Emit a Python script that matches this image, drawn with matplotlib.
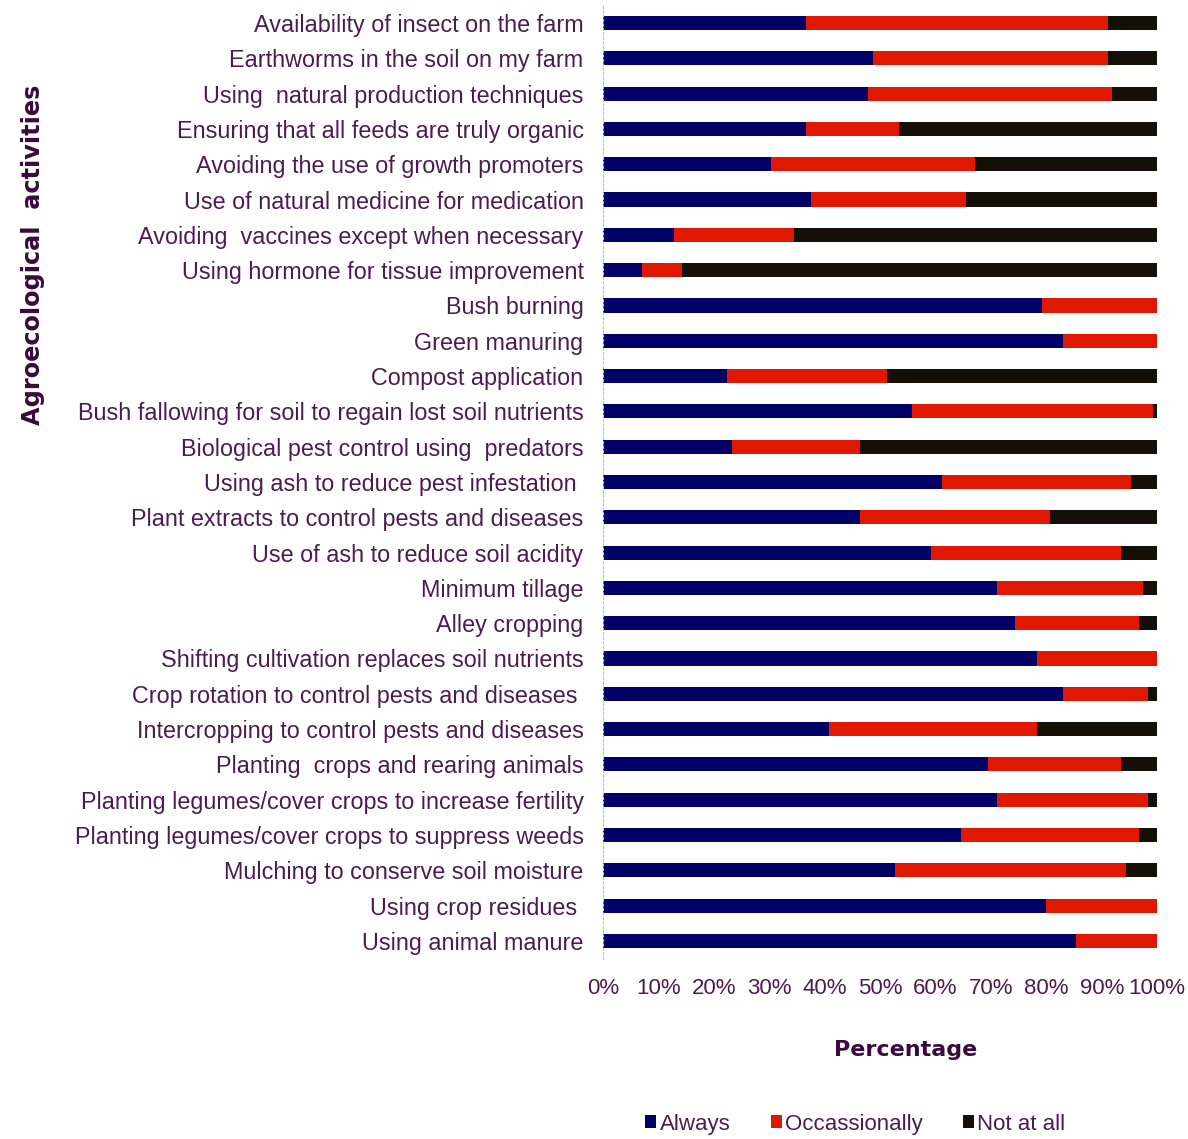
import matplotlib.pyplot as plt
import numpy as np

# activities, top to bottom as in the figure
activities = ['Availability of insect on the farm',
              'Earthworms in the soil on my farm',
              'Using  natural production techniques',
              'Ensuring that all feeds are truly organic',
              'Avoiding the use of growth promoters',
              'Use of natural medicine for medication',
              'Avoiding  vaccines except when necessary',
              'Using hormone for tissue improvement',
              'Bush burning',
              'Green manuring',
              'Compost application',
              'Bush fallowing for soil to regain lost soil nutrients',
              'Biological pest control using  predators',
              'Using ash to reduce pest infestation ',
              'Plant extracts to control pests and diseases',
              'Use of ash to reduce soil acidity',
              'Minimum tillage',
              'Alley cropping',
              'Shifting cultivation replaces soil nutrients',
              'Crop rotation to control pests and diseases ',
              'Intercropping to control pests and diseases',
              'Planting  crops and rearing animals',
              'Planting legumes/cover crops to increase fertility',
              'Planting legumes/cover crops to suppress weeds',
              'Mulching to conserve soil moisture',
              'Using crop residues ',
              'Using animal manure']

always = [36.6, 48.7, 47.8, 36.6, 30.3, 37.5, 12.8, 7.0, 79.2, 83.0, 22.4, 55.8, 23.3, 61.2,
          46.4, 59.2, 71.1, 74.4, 78.3, 83.0, 40.8, 69.5, 71.1, 64.6, 52.7, 80.0, 85.4]
occasionally = [54.6, 42.5, 44.1, 16.8, 36.8, 28.0, 21.7, 7.3, 20.8, 17.0, 28.9, 43.5, 23.1, 34.1,
                34.3, 34.3, 26.4, 22.4, 21.7, 15.4, 37.5, 24.0, 27.3, 32.2, 41.7, 20.0, 14.6]
not_at_all = [8.8, 8.8, 8.1, 46.6, 32.9, 34.5, 65.5, 85.7, 0.0, 0.0, 48.7, 0.7, 53.6, 4.7,
              19.3, 6.5, 2.5, 3.2, 0.0, 1.6, 21.7, 6.5, 1.6, 3.2, 5.6, 0.0, 0.0]

series = ['Always', 'Occassionally', 'Not at all']
colors = ['#000066', '#e01800', '#141008']
txt = '#4b1c4f'

plt.rcParams['font.family'] = ['Liberation Sans', 'DejaVu Sans']

fig = plt.figure(figsize=(11.88, 11.39), dpi=100)
ax = fig.add_axes([0.5076, 0.1584, 0.4664, 0.8369])

y = np.arange(len(activities))
left = np.zeros(len(activities))
for vals, lab, col in zip([always, occasionally, not_at_all], series, colors):
    vals = np.array(vals)
    ax.barh(y, vals, left=left, height=0.4, color=col, label=lab)
    left = left + vals

ax.set_ylim(len(activities) - 0.5, -0.5)
ax.set_xlim(0, 100)
ax.set_yticks(y)
ax.set_yticklabels(activities, fontsize=16.8, color=txt)
ax.set_xticks(np.arange(0, 101, 10))
ax.set_xticklabels([str(v) + '%' for v in range(0, 101, 10)], fontsize=16, color=txt)
ax.tick_params(axis='both', length=0)
ax.tick_params(axis='y', pad=14)
ax.tick_params(axis='x', pad=14)
for s in ['top', 'right', 'bottom']:
    ax.spines[s].set_visible(False)
ax.spines['left'].set_color('#c8b8d0')
ax.spines['left'].set_linestyle((0, (2, 2)))

fig.text(0.762, 0.078, 'Percentage', fontsize=16, fontweight='bold', color='#3a0a3e',
         ha='center', va='center', family='DejaVu Sans')
fig.text(0.028, 0.776, 'Agroecological  activities', fontsize=17.3, fontweight='bold', color='#3a0a3e',
         rotation=90, ha='center', va='center', family='DejaVu Sans')

ax.legend(loc='center', bbox_to_anchor=(0.72, 0.013), bbox_transform=fig.transFigure,
          ncol=3, frameon=False, fontsize=16, handlelength=0.5, handleheight=0.5,
          handletextpad=0.15, columnspacing=1.8, labelcolor=txt)

fig.savefig('out.png', dpi=100)
